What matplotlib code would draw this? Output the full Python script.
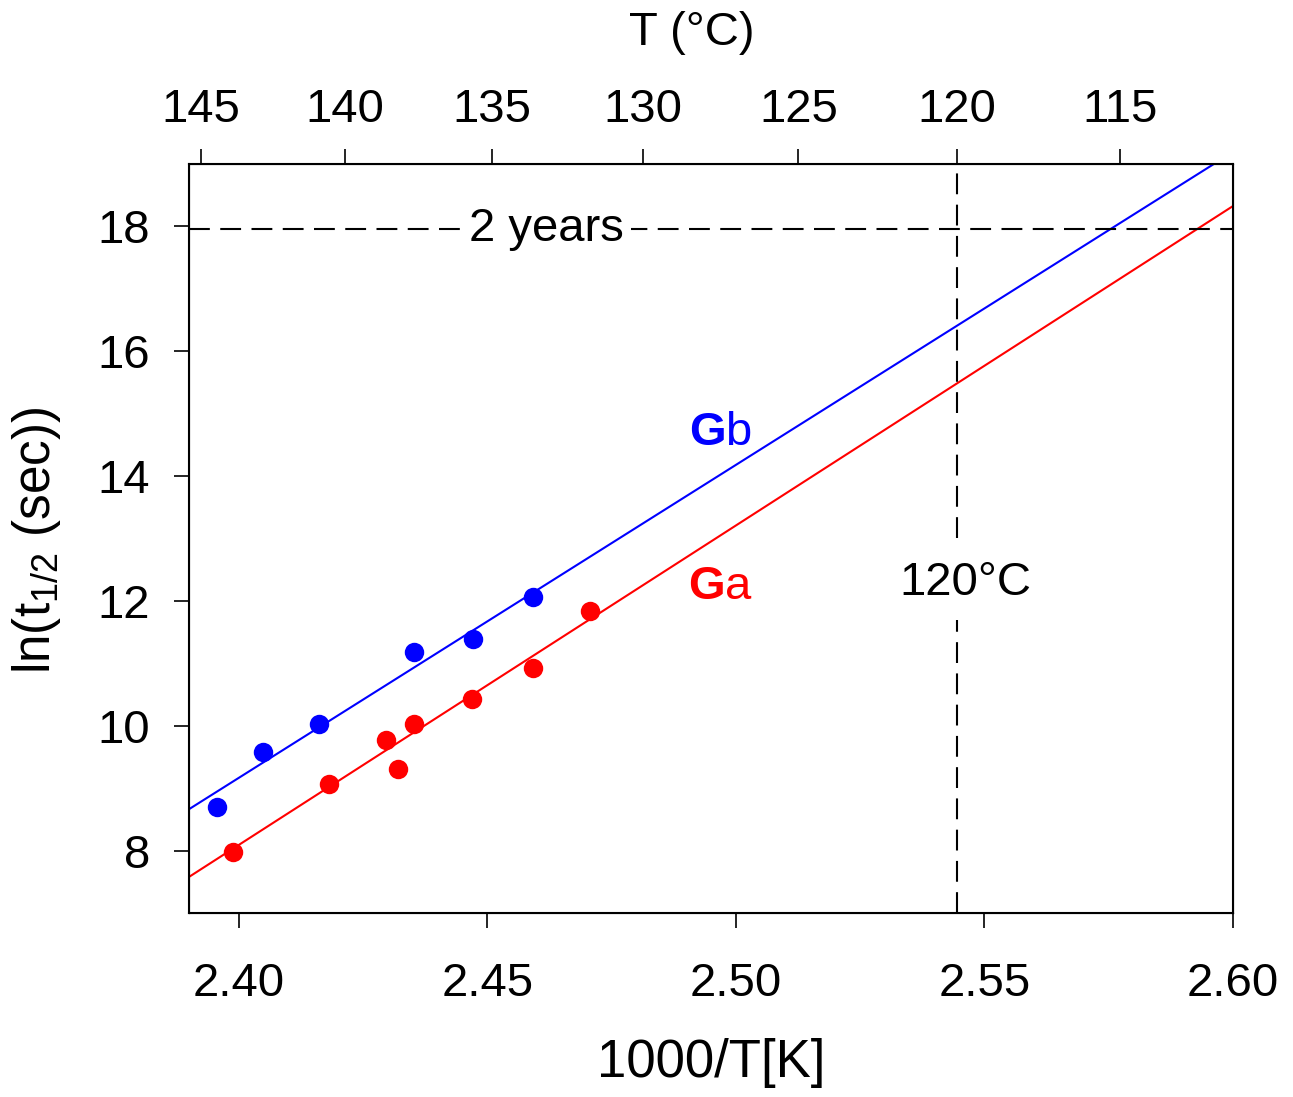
import matplotlib
matplotlib.use("Agg")
import matplotlib.pyplot as plt
import numpy as np

plt.rcParams.update({
    "font.family": ["Liberation Sans", "DejaVu Sans"],
    "mathtext.fontset": "custom",
    "mathtext.rm": "Liberation Sans",
    "mathtext.it": "Liberation Sans:italic",
    "mathtext.bf": "Liberation Sans:bold",
    "font.size": 34,
})

# half-life measurements, x = 1000/T[K], y = ln(t1/2 in sec)
gb_x = [2.3956, 2.4048, 2.4161, 2.4353, 2.4471, 2.4592]
gb_y = [8.70, 9.58, 10.03, 11.18, 11.38, 12.06]
ga_x = [2.3989, 2.4181, 2.4296, 2.4321, 2.4352, 2.4470, 2.4592, 2.4707]
ga_y = [7.97, 9.06, 9.77, 9.31, 10.02, 10.42, 10.92, 11.84]

# fitted Arrhenius lines: y = slope * x + intercept
gb_fit = (50.11, -111.10)
ga_fit = (51.15, -114.67)

temps_c = [145, 140, 135, 130, 125, 120, 115]
x_ticks = [2.40, 2.45, 2.50, 2.55, 2.60]
y_ticks = [8, 10, 12, 14, 16, 18]
two_years = np.log(2 * 365 * 86400)
t_mark = 120

fig = plt.figure(figsize=(12.93, 10.97), dpi=100)
ax = fig.add_axes([0.1462, 0.1677, 0.8074, 0.6832])

xs = np.linspace(2.39, 2.60, 200)
ax.plot(xs, gb_fit[0] * xs + gb_fit[1], color="blue", lw=1.5)
ax.plot(xs, ga_fit[0] * xs + ga_fit[1], color="red", lw=1.5)
ax.plot(gb_x, gb_y, "o", color="blue", ms=14, mew=0)
ax.plot(ga_x, ga_y, "o", color="red", ms=14, mew=0)

x_mark = 1000 / (t_mark + 273)
ax.axhline(two_years, color="black", lw=1.5, dashes=(10, 5))
ax.axvline(x_mark, color="black", lw=1.5, dashes=(10, 5))

ax.text(2.4619, two_years, "2 years", ha="center", va="center", fontsize=34,
        bbox=dict(facecolor="white", edgecolor="none", pad=5))
ax.text(2.5462, 12.29, "120°C", ha="center", va="center", fontsize=34,
        bbox=dict(facecolor="white", edgecolor="none", pad=11))
ax.text(2.4970, 14.69, r"$\mathbf{G}$b", color="blue", ha="center", va="center", fontsize=34)
ax.text(2.4970, 12.22, r"$\mathbf{G}$a", color="red", ha="center", va="center", fontsize=34)

ax.set_xlim(2.39, 2.60)
ax.set_ylim(7.0, 19.0)
ax.set_xticks(x_ticks)
ax.set_xticklabels([f"{v:.2f}" for v in x_ticks])
ax.set_yticks(y_ticks)
ax.tick_params(axis="both", direction="out", length=11, width=1.2, labelsize=34)
ax.tick_params(axis="x", pad=24)
ax.tick_params(axis="y", pad=17)
for s in ax.spines.values():
    s.set_linewidth(1.5)

top = ax.twiny()
top.set_xlim(ax.get_xlim())
top.set_xticks([1000 / (t + 273) for t in temps_c])
top.set_xticklabels([str(t) for t in temps_c])
top.tick_params(axis="x", direction="out", length=11, width=1.2, labelsize=34, pad=12)

fig.text(711 / 1293, 1 - 1063 / 1097, "1000/T[K]", ha="center", va="center", fontsize=38)
fig.text(692 / 1293, 1 - 33 / 1097, "T (°C)", ha="center", va="center", fontsize=34)
fig.text(37 / 1293, 1 - 540 / 1097, r"ln(t$_{\mathrm{1/2}}$ (sec))", ha="center", va="center",
         rotation=90, fontsize=37)

fig.savefig("out.png", dpi=100)
